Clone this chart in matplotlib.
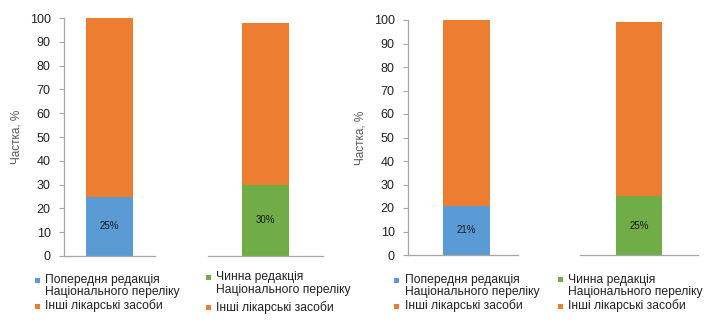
import matplotlib
matplotlib.use("Agg")
import matplotlib.pyplot as plt
from matplotlib.patches import Rectangle

plt.rcParams['font.family'] = ['Liberation Sans', 'DejaVu Sans']

# Shares of medicines (%), two periods, two editions of the National list
left_prev = 25
left_prev_other = 75
left_curr = 30
left_curr_other = 68

right_prev = 21
right_prev_other = 79
right_curr = 25
right_curr_other = 74

y_ticks = list(range(0, 101, 10))
y_label = "Частка, %"
lbl_prev = "Попередня редакція\nНаціонального переліку"
lbl_curr = "Чинна редакція\nНаціонального переліку"
lbl_other = "Інші лікарські засоби"

BLUE = "#5B9BD5"
ORANGE = "#ED7D31"
GREEN = "#70AD47"
AXIS = "#A6A6A6"
TEXT = "#222222"

W, H = 715, 323
fig = plt.figure(figsize=(W / 100, H / 100), dpi=100)


def ax_at(x0, x1, y_top=18, y_bottom=256):
    return fig.add_axes([x0 / W, 1 - y_bottom / H, (x1 - x0) / W, (y_bottom - y_top) / H])


def draw(ax, value, other, color, width, show_y, xlim=(-0.5, 0.5)):
    ax.bar([0], [value], width=width, color=color, edgecolor="none")
    ax.bar([0], [other], bottom=[value], width=width, color=ORANGE, edgecolor="none")
    ax.text(0, value / 2, f"{value}%", ha="center", va="center", fontsize=7, color="#1a1a1a")
    ax.set_xlim(*xlim)
    ax.set_ylim(0, 100)
    ax.set_xticks([])
    for s in ("top", "right"):
        ax.spines[s].set_visible(False)
    ax.spines["bottom"].set_color(AXIS)
    ax.spines["bottom"].set_linewidth(0.9)
    if show_y:
        ax.spines["left"].set_color(AXIS)
        ax.spines["left"].set_linewidth(0.9)
        ax.set_yticks(y_ticks)
        ax.tick_params(axis="y", length=3.5, width=0.8, color=AXIS, labelsize=9, labelcolor=TEXT, pad=6)
        ax.set_ylabel(y_label, fontsize=8.5, color="#595959", labelpad=5)
    else:
        ax.spines["left"].set_visible(False)
        ax.set_yticks([])
    ax.patch.set_alpha(0)


def legend_entry(x, y, color, label, line_gap=12.5):
    """Square marker aligned with the first text line, text to its right."""
    s = 5
    fig.add_artist(Rectangle(((x - s / 2) / W, 1 - (y + s / 2) / H), s / W, s / H,
                             transform=fig.transFigure, facecolor=color, edgecolor="none"))
    for i, line in enumerate(label.split("\n")):
        fig.text((x + 8) / W, 1 - (y + i * line_gap) / H, line, ha="left", va="center",
                 fontsize=8.7, color=TEXT)


a1 = ax_at(64, 155)
draw(a1, left_prev, left_prev_other, BLUE, 47 / 91, True)
a2 = ax_at(208, 323)
draw(a2, left_curr, left_curr_other, GREEN, 47 / 115, False)
a3 = ax_at(408, 518, 20, 255)
draw(a3, right_prev, right_prev_other, BLUE, 47 / 110, True, (-0.53, 0.47))
a4 = ax_at(580, 698, 20, 255)
draw(a4, right_curr, right_curr_other, GREEN, 46 / 118, False)

legend_entry(37, 280, BLUE, lbl_prev)
legend_entry(37, 306, ORANGE, lbl_other)
legend_entry(208.5, 277, GREEN, lbl_curr, 13)
legend_entry(208.5, 307.5, ORANGE, lbl_other)
legend_entry(397, 280, BLUE, lbl_prev)
legend_entry(397, 306, ORANGE, lbl_other)
legend_entry(560, 279.5, GREEN, lbl_curr)
legend_entry(560, 306, ORANGE, lbl_other)

fig.savefig("out.png", dpi=100)
